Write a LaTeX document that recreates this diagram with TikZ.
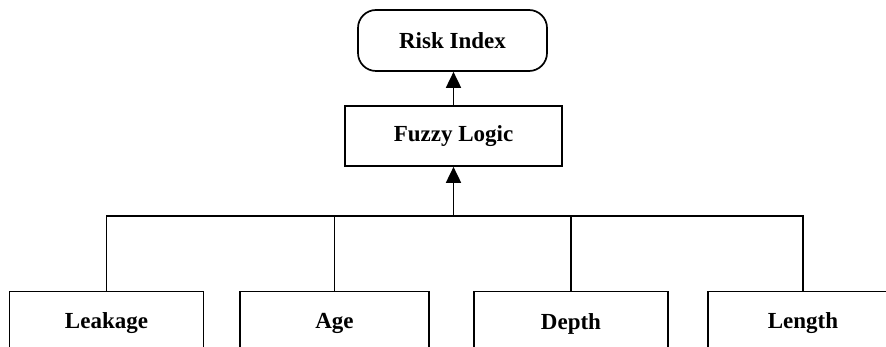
\documentclass[tikz,border=0pt]{standalone}
\usepackage{fontspec}
\setmainfont{Liberation Serif}
\usetikzlibrary{arrows.meta}
\begin{document}
\begin{tikzpicture}[x=1pt,y=-1pt,
  every node/.style={font=\fontsize{23}{27}\selectfont\bfseries, draw, line width=1.7pt, inner sep=0pt, anchor=center},
  topbox/.style={rounded corners=18pt, minimum width=189pt, minimum height=61pt},
  midbox/.style={minimum width=217pt, minimum height=60pt},
  leafbox/.style={minimum width=194pt, minimum height=64pt},
  wire/.style={line width=1.8pt},
  arr/.style={wire, -{Triangle[length=16pt,width=15pt]}}]
\useasboundingbox (0,0) rectangle (886,347);
\begin{scope}
\clip (0,0) rectangle (886,347);
\node[topbox]  (risk)    at (452.5,40.5) {Risk Index};
\node[midbox]  (fuzzy)   at (453.5,136)  {Fuzzy Logic};
\node[leafbox] (leakage) at (106.5,323.5) {Leakage};
\node[leafbox, minimum width=189pt] (age) at (334.5,323.5) {Age};
\node[leafbox] (depth)   at (571,323.5)  {Depth};
\node[leafbox, minimum width=190pt] (length) at (803,323.5) {Length};

% collector bus joining the four inputs
\coordinate (busL) at (leakage.north |- 0,216);
\coordinate (busR) at (length.north |- 0,216);
\coordinate (busM) at (fuzzy.south |- 0,216);
\draw[wire] (leakage.north) -- (busL) -- (busR) -- (length.north);
\draw[wire] (age.north) -- (age.north |- busL);
\draw[wire] (depth.north) -- (depth.north |- busL);
\draw[arr] (busM) -- (fuzzy.south);
\draw[arr] (fuzzy.north) -- (fuzzy.north |- risk.south);
\end{scope}
\end{tikzpicture}
\end{document}
